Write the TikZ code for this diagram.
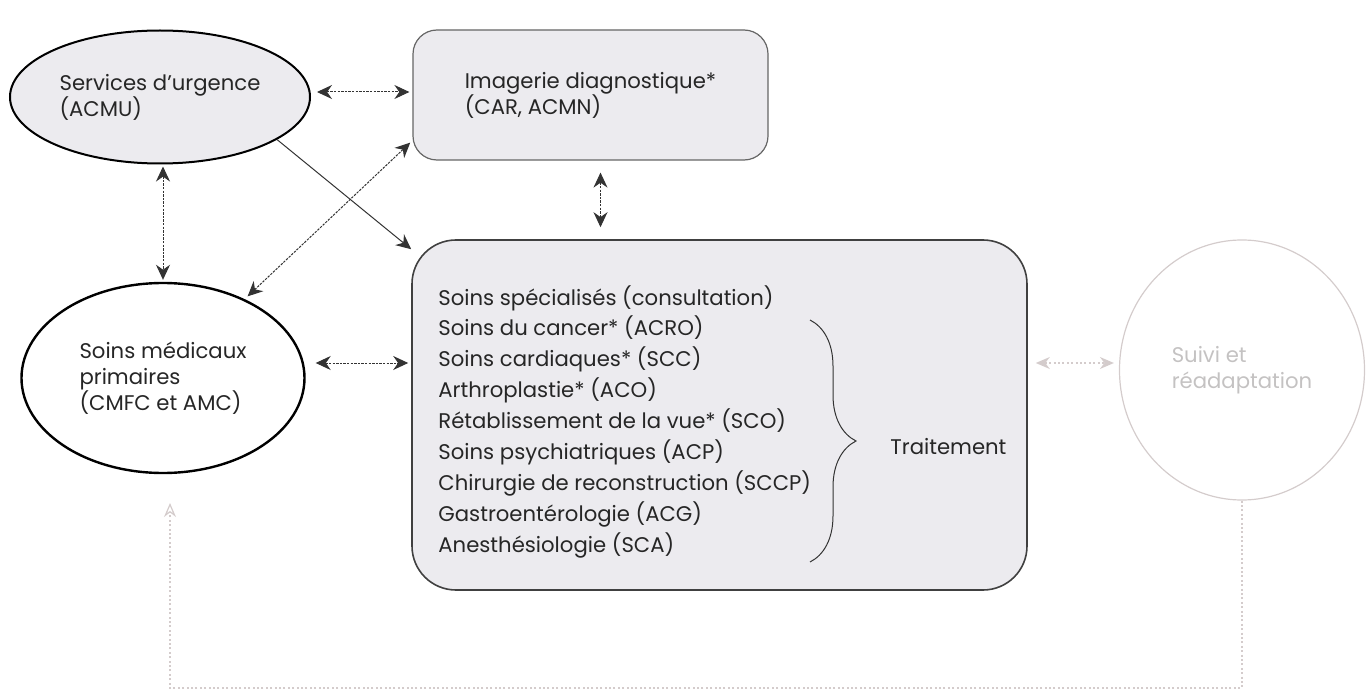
\documentclass[tikz,border=0pt]{standalone}
\usepackage{fontspec}
\setmainfont{Poppins}
\usetikzlibrary{arrows.meta,shapes.geometric,decorations.pathreplacing}

\definecolor{fillgray}{RGB}{236,235,239}
\definecolor{paleline}{RGB}{212,204,204}
\definecolor{paletext}{RGB}{196,194,194}

\tikzset{
  txt/.style={font=\fontsize{10.6}{13}\selectfont, text=black!85},
  oval/.style={ellipse, draw, line width=1pt, inner sep=0pt, align=left, txt},
  roundbox/.style={rectangle, draw=black!60, fill=fillgray, line width=0.6pt, txt},
  conn/.style={{Stealth[length=7.5pt,width=7pt]}-{Stealth[length=7.5pt,width=7pt]}, black!80, line width=0.5pt, dash pattern=on 1.2pt off 0.6pt},
  paleconn/.style={paleline, line width=0.6pt, dash pattern=on 1pt off 1.2pt},
  item/.style={anchor=base west, inner sep=0pt, txt},
}

\begin{document}
\begin{tikzpicture}[x=0.5pt,y=-0.5pt]
\useasboundingbox (0,0) rectangle (1372,690);

% boxes
\node[oval, fill=fillgray, minimum width=150pt, minimum height=66.5pt] (urg) at (160,97) {Services d’urgence\\(ACMU)};
\node[oval, line width=1.2pt, minimum width=141.5pt, minimum height=95pt] (prim) at (163,378) {Soins médicaux\\primaires\\(CMFC et AMC)};
\node[roundbox, rounded corners=12pt, minimum width=177.5pt, minimum height=65pt, align=left] (img) at (590.5,95) {Imagerie diagnostique*\\(CAR, ACMN)};
\node[roundbox, draw=black!75, line width=0.8pt, rounded corners=22pt, minimum width=307.5pt, minimum height=175pt] (spec) at (719.5,415) {};
\node[ellipse, draw=paleline, line width=0.6pt, minimum width=122.5pt, minimum height=130pt, align=left, txt, text=paletext] (suivi) at (1242,370) {Suivi et\\réadaptation};

\foreach \t [count=\i] in {Soins spécialisés (consultation), Soins du cancer* (ACRO), Soins cardiaques* (SCC), Arthroplastie* (ACO), Rétablissement de la vue* (SCO), Soins psychiatriques (ACP), Chirurgie de reconstruction (SCCP), Gastroentérologie (ACG), Anesthésiologie (SCA)}
  \node[item] (it\i) at (438,{305+30.9*(\i-1)}) {\t};

\draw[decorate, decoration={brace, amplitude=23pt}, line width=0.5pt, black!80] (810,320) -- (810,562);
\node[item] (trt) at (890,454) {Traitement};

% connectors
\draw[conn, shorten <=3pt, shorten >=1.5pt] ([yshift=2.5pt]urg.east) -- ([yshift=2.5pt]urg.east -| img.west);
\draw[black!80, line width=0.5pt, -{Stealth[length=7.5pt,width=7pt]}] (urg.-20) -- ([yshift=-5pt]spec.north west);
\draw[conn, shorten <=1pt, shorten >=1pt] ([xshift=1.5pt]urg.south) -- (prim.north);
\draw[conn, shorten <=2pt, shorten >=1.5pt] (prim.44) -- ([yshift=10pt]img.south west);
\draw[conn, shorten <=6pt, shorten >=6pt] ([xshift=5pt]img.south) -- ([xshift=5pt]img.south |- spec.north);
\draw[conn, shorten <=5pt, shorten >=1.5pt] ([yshift=7.5pt]prim.east) -- ([yshift=7.5pt]prim.east -| spec.west);
\draw[paleconn, {Stealth[length=7pt,width=6pt,paleline]}-{Stealth[length=7pt,width=6pt,paleline]}, shorten <=4pt, shorten >=2.5pt] ([yshift=26pt]spec.east) -- ([yshift=26pt]spec.east -| suivi.west);

\coordinate (fbot) at (170,688);
\coordinate (fb) at (170,503);
\draw[paleconn, -{Stealth[open,length=7pt,width=6pt]}] (suivi.south) |- (fbot) -- (fb);

\end{tikzpicture}
\end{document}
